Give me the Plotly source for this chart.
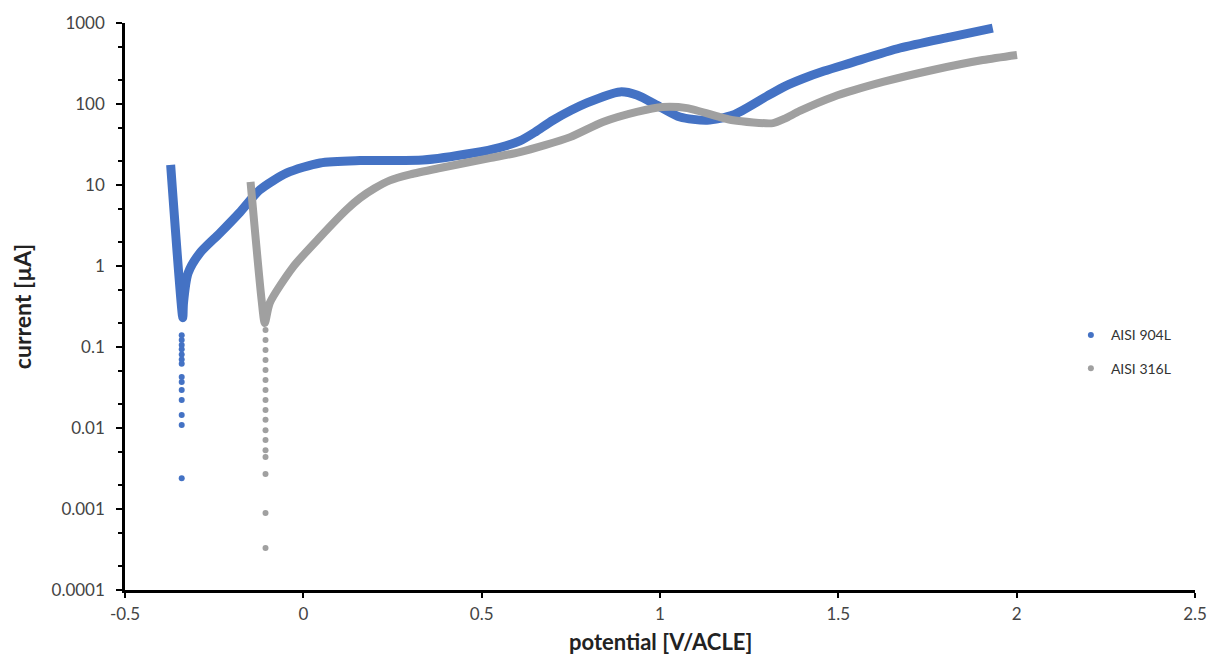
import plotly.graph_objects as go

# ---- AISI 904L (blue) : main polarization curve (potential V, current uA)
b_x = [-0.372, -0.338, -0.336, -0.323, -0.290, -0.234, -0.178, -0.122, -0.046, 0.047,
       0.159, 0.335, 0.476, 0.550, 0.607, 0.650, 0.700, 0.795, 0.888, 0.935,
       1.000, 1.056, 1.132, 1.205, 1.300, 1.350, 1.400, 1.460, 1.533, 1.673,
       1.813, 1.933]
b_y = [17.7, 0.23, 0.35, 0.82, 1.45, 2.55, 4.6, 8.7, 14.1, 18.7,
       20.0, 20.3, 24.8, 29, 35, 45, 63, 103, 141, 129,
       92, 69, 63, 73, 125, 165, 205, 255, 320, 491,
       671, 866]
# sparse points in the transition dip
b_dip_x = [-0.341] * 14
b_dip_y = [0.14, 0.122, 0.106, 0.094, 0.081, 0.07, 0.062, 0.0427, 0.037, 0.0294,
           0.0222, 0.0145, 0.0109, 0.0024]

# ---- AISI 316L (grey)
g_x = [-0.148, -0.117, -0.108, -0.094, -0.029, 0.047, 0.122, 0.159, 0.200, 0.243,
       0.300, 0.383, 0.523, 0.607, 0.748, 0.840, 0.935, 1.008, 1.076, 1.168,
       1.205, 1.317, 1.350, 1.392, 1.485, 1.625, 1.765, 1.905, 2.001]
g_y = [10.9, 0.38, 0.198, 0.35, 0.97, 2.28, 5.0, 6.9, 9.1, 11.4,
       13.5, 16.2, 21.5, 25.5, 39, 60, 80, 92, 89, 69,
       63, 58, 66, 82, 122, 187, 263, 349, 403]
g_dip_x = [-0.106] * 17
g_dip_y = [0.162, 0.122, 0.0918, 0.0691, 0.052, 0.0392, 0.0295, 0.0222, 0.0167, 0.0126,
           0.0094, 0.0071, 0.0053, 0.0044, 0.0027, 0.00089, 0.00033]

series_names = ["AISI 904L", "AISI 316L"]
x_title = "<b>potential [V/ACLE]</b>"
y_title = "<b>current [µA]</b>"
BLUE = "#4472C4"
GREY = "#A0A0A0"

font_family = "Lato, 'Open Sans', sans-serif"

fig = go.Figure()
fig.add_trace(go.Scatter(x=b_x, y=b_y, mode="lines", line=dict(color=BLUE, width=9, shape="spline", smoothing=0.7),
                         showlegend=False, legendgroup="a", hoverinfo="skip"))
fig.add_trace(go.Scatter(x=g_x, y=g_y, mode="lines", line=dict(color=GREY, width=8, shape="spline", smoothing=0.7),
                         showlegend=False, legendgroup="b", hoverinfo="skip"))
fig.add_trace(go.Scatter(x=b_dip_x, y=b_dip_y, mode="markers", marker=dict(color=BLUE, size=6),
                         name=series_names[0], legendgroup="a"))
fig.add_trace(go.Scatter(x=g_dip_x, y=g_dip_y, mode="markers", marker=dict(color=GREY, size=6),
                         name=series_names[1], legendgroup="b"))

y_ticks = [0.0001, 0.001, 0.01, 0.1, 1, 10, 100, 1000]
y_text = ["0.0001", "0.001", "0.01", "0.1", "1", "10", "100", "1000"]
x_ticks = [-0.5, 0, 0.5, 1, 1.5, 2, 2.5]
x_text = ["-0.5", "0", "0.5", "1", "1.5", "2", "2.5"]

# page body has an 8px default margin; compensate so the plot area lands where the reference has it
fig.update_layout(
    width=1207, height=647,
    margin=dict(l=117, r=20, t=15, b=65, autoexpand=False),
    paper_bgcolor="white", plot_bgcolor="white",
    font=dict(family=font_family, size=17, color="#444444"),
    legend=dict(x=0.884, y=0.42, xanchor="left", yanchor="middle",
                font=dict(size=14, color="#333333"), tracegroupgap=12,
                traceorder="grouped", bgcolor="rgba(0,0,0,0)"),
    xaxis=dict(range=[-0.5, 2.5], tickvals=x_ticks, ticktext=x_text, automargin=False,
               showgrid=False, zeroline=False, showline=True, linecolor="black", linewidth=2.5,
               ticks="outside", ticklen=5, tickwidth=2, tickcolor="black", ticklabelstandoff=2),
    yaxis=dict(type="log", range=[-4, 3], tickvals=y_ticks, ticktext=y_text, automargin=False,
               showgrid=False, zeroline=False, showline=True, linecolor="black", linewidth=2.5,
               ticks="outside", ticklen=6, tickwidth=2, tickcolor="black", ticklabelstandoff=8,
               minor=dict(ticks="outside", ticklen=4, tickwidth=1.5, tickcolor="black", showgrid=False),
               title=dict(text=y_title, font=dict(size=23, color="#222222"), standoff=16)),
    annotations=[dict(text=x_title, xref="paper", yref="paper", x=0.5, y=-0.09,
                      xanchor="center", yanchor="middle", showarrow=False,
                      font=dict(size=22, color="#222222"))],
)

fig.write_html("out.html")
